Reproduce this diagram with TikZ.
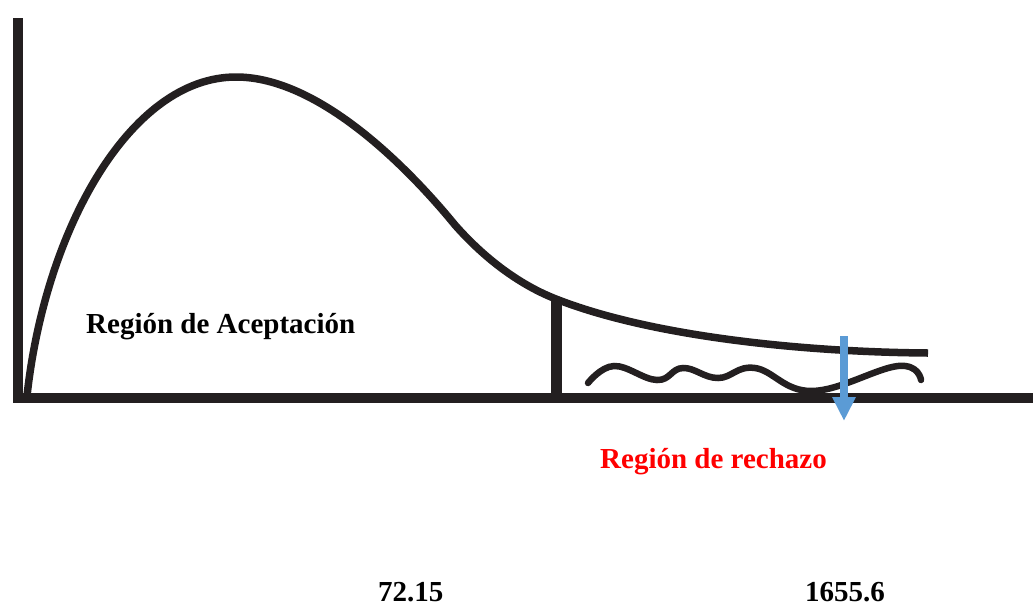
\documentclass[tikz,border=0pt]{standalone}
\usepackage{fontspec}
\setmainfont{Liberation Serif}
\usetikzlibrary{arrows.meta}
\definecolor{ink}{HTML}{231F20}
\definecolor{arrowblue}{HTML}{5B9BD5}
\definecolor{rejred}{HTML}{FF0000}
\tikzset{
  axisline/.style={line width=10pt, color=ink},
  curveline/.style={line width=7.5pt, color=ink},
  lbl/.style={font=\bfseries\fontsize{29}{34}\selectfont, inner sep=0pt, anchor=base west},
}
\begin{document}
\begin{tikzpicture}[x=1pt,y=-1pt]
\useasboundingbox (0,0) rectangle (1033,606);
% axes
\draw[axisline] (18,18) -- (18,403);
\draw[axisline] (13,398) -- (1033,398);
% density curve
\draw[curveline] (27,396) .. controls (45,230) and (130,77) .. (236,77)
  .. controls (320,77) and (410,170) .. (455,225)
  .. controls (485,259) and (520,285) .. (556,299)
  .. controls (650,336) and (800,352) .. (928,353);
% critical value bar
\draw[line width=11pt, color=ink] (556,300) -- (556,398);
% wavy line in rejection region
\draw[line width=6.5pt, color=ink, line cap=round] plot[smooth, tension=0.7] coordinates {
 (588,383) (614,366) (657,380) (683,368) (718,378) (755,368) (812,391)
 (898,366) (921,380)};
% blue arrow
\draw[line width=8pt, color=arrowblue, -{Triangle[width=22pt,length=24pt]}] (844,336) -- (844,421);
% labels
\node[lbl] (acc) at (86,333) {Región de Aceptación};
\node[lbl, text=rejred] (rej) at (600,468) {Región de rechazo};
\node[lbl] (v1) at (378,601) {72.15};
\node[lbl] (v2) at (805,601) {1655.6};
\end{tikzpicture}
\end{document}
